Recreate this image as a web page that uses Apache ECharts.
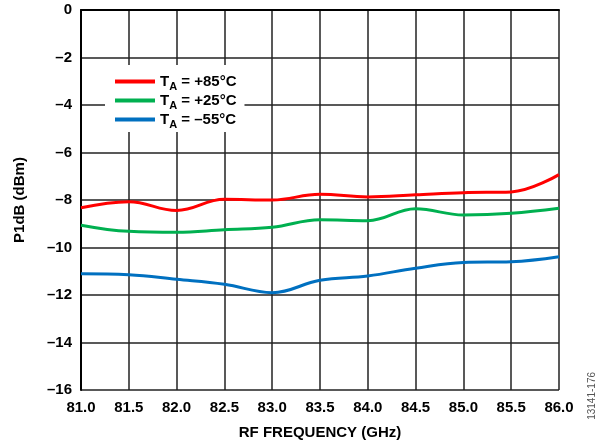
<!DOCTYPE html>
<html><head><meta charset="utf-8">
<script src="https://cdn.jsdelivr.net/npm/echarts@6/dist/echarts.min.js"></script>
<style>html,body{margin:0;padding:0;background:#fff}#c{width:602px;height:446px}</style>
</head><body><div id="c"></div>
<script>
var freq = [81.0, 81.5, 82.0, 82.5, 83.0, 83.5, 84.0, 84.5, 85.0, 85.5, 86.0];
var p85 = [-8.33, -8.07, -8.44, -7.97, -8.0, -7.76, -7.87, -7.78, -7.69, -7.66, -6.93];
var p25 = [-9.06, -9.32, -9.36, -9.25, -9.15, -8.83, -8.87, -8.37, -8.63, -8.56, -8.35];
var m55 = [-11.11, -11.15, -11.34, -11.55, -11.9, -11.38, -11.2, -10.87, -10.63, -10.6, -10.39];
var seriesNames = ['+85', '+25', '-55'];
var legendLabels = {'+85': ' = +85°C', '+25': ' = +25°C', '-55': ' = –55°C'};
var colors = ['#ff0000', '#00b050', '#0070c0'];

function pairs(xs, ys){ return xs.map(function(x,i){ return [x, ys[i]]; }); }
var FONT = '"Liberation Sans", Arial, sans-serif';
var chart = echarts.init(document.getElementById('c'), null, {renderer:'canvas'});
var mk = function(name, xs, ys, col){
  return {name:name, type:'line', data:pairs(xs, ys), smooth:0.4, showSymbol:false,
    lineStyle:{color:col, width:3}, itemStyle:{color:col}};
};
chart.setOption({
  animation:false,
  grid:{left:81, right:43, top:10, bottom:56},
  xAxis:{type:'value', min:81, max:86, interval:0.5,
    name:'RF FREQUENCY (GHz)', nameLocation:'middle', nameGap:35,
    nameTextStyle:{fontFamily:FONT, fontWeight:'bold', fontSize:15, color:'#000'},
    axisLine:{lineStyle:{color:'#000', width:2}},
    axisTick:{show:false},
    axisLabel:{margin:10, fontFamily:FONT, fontWeight:'bold', fontSize:15, color:'#000',
      formatter:function(v){return v.toFixed(1);}},
    splitLine:{show:true, lineStyle:{color:'#222', width:1.5}}
  },
  yAxis:{type:'value', min:-16, max:0, interval:2,
    name:'P1dB (dBm)', nameLocation:'middle', nameGap:54,
    nameTextStyle:{fontFamily:FONT, fontWeight:'bold', fontSize:15, color:'#000'},
    axisLine:{show:true, lineStyle:{color:'#000', width:2}},
    axisTick:{show:false},
    axisLabel:{margin:9, fontFamily:FONT, fontWeight:'bold', fontSize:15, color:'#000',
      formatter:function(v){return String(v).replace('-', '–');}},
    splitLine:{show:true, lineStyle:{color:'#222', width:1.5}}
  },
  legend:{orient:'vertical', left:105, top:65, padding:[6,8,2,10], itemGap:-2,
    backgroundColor:'#fff', icon:'rect', itemWidth:40, itemHeight:4,
    data:seriesNames,
    formatter:function(n){ return '{t|T}{s|A}{t|' + legendLabels[n] + '}'; },
    textStyle:{fontFamily:FONT, fontWeight:'bold', fontSize:15, color:'#000', lineHeight:21,
      rich:{t:{fontFamily:FONT, fontWeight:'bold', fontSize:15, color:'#000', lineHeight:21, verticalAlign:'middle'},
            s:{fontFamily:FONT, fontWeight:'bold', fontSize:11, color:'#000', lineHeight:11, verticalAlign:'bottom'}}}
  },
  graphic:[{type:'text', left:587, top:372, rotation:Math.PI/2,
    style:{text:'13141-176', fontFamily:FONT, fontSize:10, fill:'#555'}}],
  series:[mk('+85', freq, p85, colors[0]), mk('+25', freq, p25, colors[1]), mk('-55', freq, m55, colors[2])]
});
</script></body></html>
